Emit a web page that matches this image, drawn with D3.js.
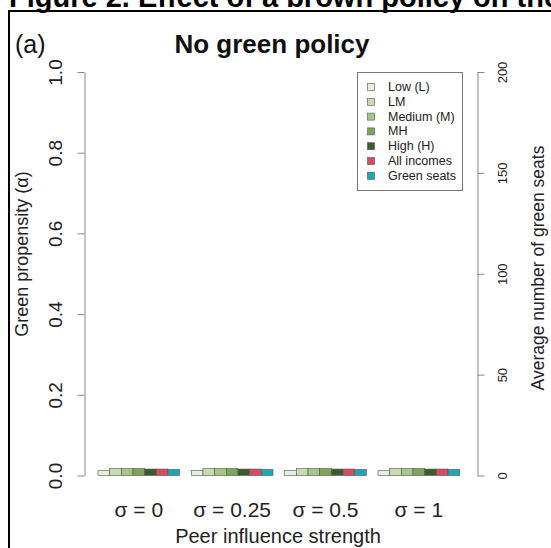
<!DOCTYPE html>
<html><head><meta charset="utf-8">
<script src="https://cdn.jsdelivr.net/npm/d3@7"></script>
<style>body{margin:0;background:#fff;} svg{display:block;font-family:"Liberation Sans",Arial,sans-serif;}</style>
</head><body>
<script>
const categories = ["σ = 0", "σ = 0.25", "σ = 0.5", "σ = 1"];
const incomeGroups = ["Low (L)", "LM", "Medium (M)", "MH", "High (H)", "All incomes"];
const propensity = [
  [0.012, 0.017, 0.017, 0.017, 0.016, 0.016],
  [0.012, 0.017, 0.017, 0.017, 0.016, 0.016],
  [0.012, 0.017, 0.017, 0.017, 0.016, 0.016],
  [0.012, 0.017, 0.017, 0.017, 0.016, 0.016]
];
const greenSeats = [3, 3, 3, 3];
const legendLabels = ["Low (L)", "LM", "Medium (M)", "MH", "High (H)", "All incomes", "Green seats"];
const colors = ["#e6eedd", "#c6dbb1", "#a5c689", "#7ea35a", "#3e5a2f", "#d84a62", "#1ba7b6"];
const leftTicks = [0, 0.2, 0.4, 0.6, 0.8, 1.0];
const rightTicks = [0, 50, 100, 150, 200];

const W = 551, H = 548;
const svg = d3.select("body").append("svg").attr("width", W).attr("height", H);

// header (cut off at top and right, as in the reference)
svg.append("text").attr("x", 9).attr("y", 7).attr("font-size", 29).attr("font-weight", "bold")
  .attr("fill", "#000").text("Figure 2. Effect of a brown policy on the");
// frame
svg.append("line").attr("x1", 8).attr("x2", W).attr("y1", 11).attr("y2", 11).attr("stroke", "#000").attr("stroke-width", 2);
svg.append("line").attr("x1", 9).attr("x2", 9).attr("y1", 10).attr("y2", H).attr("stroke", "#000").attr("stroke-width", 2);

const y = d3.scaleLinear().domain([0, 1]).range([475.5, 72]);
const y2 = d3.scaleLinear().domain([0, 200]).range([475.5, 72]);
const xu = d3.scaleLinear().domain([0, 32]).range([86.3, 459.7]);

// bars
categories.forEach((c, gi) => {
  const vals = propensity[gi].map(v => ({v, s: y}));
  vals.push({v: greenSeats[gi], s: y2});
  vals.forEach((d, j) => {
    const u = gi * 8 + 1 + j;
    svg.append("rect")
      .attr("x", xu(u)).attr("width", xu(u + 1) - xu(u))
      .attr("y", d.s(d.v)).attr("height", d.s(0) - d.s(d.v))
      .attr("fill", colors[j]).attr("stroke", "#555").attr("stroke-width", 0.6);
  });
  svg.append("text").attr("x", (xu(gi * 8 + 1) + xu(gi * 8 + 8)) / 2).attr("y", 517)
    .attr("text-anchor", "middle").attr("font-size", 21).attr("fill", "#222").text(c);
});

// left axis
const gL = svg.append("g").attr("transform", "translate(84.5,0)")
  .call(d3.axisLeft(y).tickValues(leftTicks).tickSize(7).tickSizeOuter(0).tickFormat(d3.format(".1f")));
gL.selectAll("path,line").attr("stroke", "#888");
gL.selectAll("text").attr("transform", "rotate(-90)").attr("x", 0).attr("y", -29).attr("dy", null)
  .attr("dominant-baseline", "central").attr("text-anchor", "middle").attr("font-size", 19).attr("fill", "#222")
  .attr("font-family", "Liberation Sans, Arial, sans-serif");

// right axis
const gR = svg.append("g").attr("transform", "translate(477.5,0)")
  .call(d3.axisRight(y2).tickValues(rightTicks).tickSize(7).tickSizeOuter(0));
gR.selectAll("path,line").attr("stroke", "#888");
gR.selectAll("text").attr("transform", "rotate(-90)").attr("x", 0).attr("y", 25).attr("dy", null)
  .attr("dominant-baseline", "central").attr("text-anchor", "middle").attr("font-size", 13).attr("fill", "#222")
  .attr("font-family", "Liberation Sans, Arial, sans-serif");

// axis titles
svg.append("text").attr("transform", "translate(22,254) rotate(-90)").attr("text-anchor", "middle")
  .attr("dominant-baseline", "central").attr("font-size", 18).attr("fill", "#222").text("Green propensity (α)");
svg.append("text").attr("transform", "translate(538,268) rotate(-90)").attr("text-anchor", "middle")
  .attr("dominant-baseline", "central").attr("font-size", 17.5).attr("fill", "#222").text("Average number of green seats");
svg.append("text").attr("x", 278).attr("y", 543).attr("text-anchor", "middle").attr("font-size", 20)
  .attr("fill", "#222").text("Peer influence strength");

// title
svg.append("text").attr("x", 272).attr("y", 53).attr("text-anchor", "middle").attr("font-size", 26)
  .attr("font-weight", "bold").attr("fill", "#111").text("No green policy");
svg.append("text").attr("x", 15).attr("y", 53).attr("font-size", 25).attr("fill", "#111").text("(a)");

// legend
const lg = svg.append("g");
lg.append("rect").attr("x", 357.5).attr("y", 72.5).attr("width", 105).attr("height", 118)
  .attr("fill", "#fff").attr("stroke", "#777").attr("stroke-width", 1);
legendLabels.forEach((l, i) => {
  const yy = 87 + i * 14.8;
  lg.append("rect").attr("x", 367.5).attr("y", yy - 3.5).attr("width", 7).attr("height", 7)
    .attr("fill", colors[i]).attr("stroke", "#555").attr("stroke-width", 0.6);
  lg.append("text").attr("x", 388).attr("y", yy).attr("dominant-baseline", "central")
    .attr("font-size", 12.5).attr("fill", "#222").text(l);
});
</script>
</body></html>
